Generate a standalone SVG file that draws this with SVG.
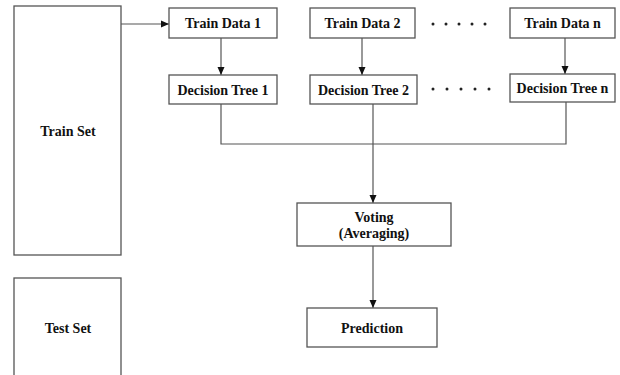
<svg xmlns="http://www.w3.org/2000/svg" width="620" height="375" viewBox="0 0 620 375">
<defs>
<marker id="ah" markerWidth="8" markerHeight="8" refX="8" refY="4" orient="auto" markerUnits="userSpaceOnUse">
<path d="M0,0.5 L8,4 L0,7.5 z" fill="#111"/>
</marker>
<style>
.box{fill:#fff;stroke:#555;stroke-width:1.3}
.t{font-family:"Liberation Serif","Times New Roman",serif;font-weight:bold;font-size:14px;fill:#111;text-anchor:middle}
.c{fill:none;stroke:#555;stroke-width:1.2}
.dot{fill:#222}
</style>
</defs>
<rect width="620" height="375" fill="#fff"/>
<g id="connectors">
<path class="c" d="M121,24 H169" marker-end="url(#ah)"/>
<path class="c" d="M221,38 V75" marker-end="url(#ah)"/>
<path class="c" d="M362,38 V75" marker-end="url(#ah)"/>
<path class="c" d="M565,38 V74" marker-end="url(#ah)"/>
<path class="c" d="M221,104 V144 H566 V102"/>
<path class="c" d="M373,104 V203" marker-end="url(#ah)"/>
<path class="c" d="M373,246 V308" marker-end="url(#ah)"/>
</g>
<g id="train-set"><rect class="box" x="14" y="6" width="107" height="249"/><text class="t" x="68" y="136">Train Set</text></g>
<g id="test-set"><rect class="box" x="14" y="278" width="107" height="110"/><text class="t" x="68" y="333">Test Set</text></g>
<g id="train-data-1"><rect class="box" x="169" y="8" width="108" height="30"/><text class="t" x="223" y="28">Train Data 1</text></g>
<g id="train-data-2"><rect class="box" x="310" y="8" width="105" height="30"/><text class="t" x="362.5" y="28">Train Data 2</text></g>
<g id="train-data-n"><rect class="box" x="510" y="8" width="105" height="30"/><text class="t" x="562.5" y="28">Train Data n</text></g>
<g id="decision-tree-1"><rect class="box" x="169" y="75" width="108" height="29"/><text class="t" x="223" y="95">Decision Tree 1</text></g>
<g id="decision-tree-2"><rect class="box" x="310" y="75" width="107" height="29"/><text class="t" x="363.5" y="95">Decision Tree 2</text></g>
<g id="decision-tree-n"><rect class="box" x="510" y="74" width="105" height="28"/><text class="t" x="562.5" y="93">Decision Tree n</text></g>
<g id="dots-1"><circle class="dot" cx="433" cy="24" r="1.5"/><circle class="dot" cx="446" cy="24" r="1.5"/><circle class="dot" cx="459" cy="24" r="1.5"/><circle class="dot" cx="472" cy="24" r="1.5"/><circle class="dot" cx="485" cy="24" r="1.5"/></g>
<g id="dots-2"><circle class="dot" cx="433" cy="89" r="1.5"/><circle class="dot" cx="447" cy="89" r="1.5"/><circle class="dot" cx="461" cy="89" r="1.5"/><circle class="dot" cx="475" cy="89" r="1.5"/><circle class="dot" cx="489" cy="89" r="1.5"/></g>
<g id="voting"><rect class="box" x="297" y="203" width="154" height="43"/><text class="t" x="374" y="222">Voting</text><text class="t" x="374" y="238">(Averaging)</text></g>
<g id="prediction"><rect class="box" x="307" y="308" width="130" height="39"/><text class="t" x="372" y="333">Prediction</text></g>
</svg>
